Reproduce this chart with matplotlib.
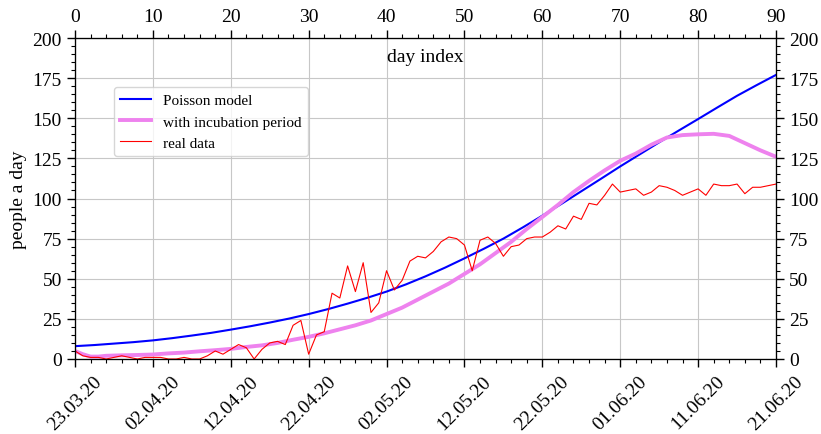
import numpy as np
import matplotlib
matplotlib.use("Agg")
import matplotlib.pyplot as plt
from matplotlib.ticker import MultipleLocator

plt.rcParams['font.family'] = ['Liberation Serif', 'DejaVu Serif']

# day index of each series point
model_days = [0, 2.5, 5, 7.5, 10, 12.5, 15, 17.5, 20, 22.5, 25, 27.5, 30, 32.5, 35, 37.5,
              40, 42.5, 45, 47.5, 50, 52.5, 55, 57.5, 60, 62.5, 65, 67.5, 70, 72.5, 75,
              77.5, 80, 82.5, 85, 87.5, 90]
poisson = [8, 8.7, 9.6, 10.5, 11.6, 13, 14.6, 16.3, 18.3, 20.4, 22.7, 25.2, 28, 31.1, 34.5,
           38.1, 42, 46.5, 51.5, 56.9, 62.7, 68.7, 75, 82, 89.3, 96.8, 104.5, 112.2, 120,
           127.5, 135, 142.3, 149.5, 156.8, 164, 170.6, 177]

incub_days = [0, 1, 2, 3, 4, 6, 8, 10, 12, 14, 16, 18, 20, 22, 24, 26, 28, 30, 32, 34, 36,
              38, 40, 42, 44, 46, 48, 50, 52, 54, 56, 58, 60, 62, 64, 66, 68, 70, 72, 74,
              76, 78, 80, 82, 84, 86, 88, 90]
incubation = [5, 3, 1.5, 1.5, 2, 2.3, 2.5, 2.8, 3.5, 4, 4.8, 5.5, 6.3, 7.5, 8.5, 10, 12,
              13.8, 16, 18.5, 21, 24, 28, 32, 37, 42, 47, 53, 59, 66, 73, 81, 88.5, 96,
              104, 111, 117.5, 123.5, 128, 133.5, 138, 139.5, 140, 140.3, 139, 134.5,
              130, 126]

real_days = list(range(91))
real = [5, 2, 1, 1, 0, 1, 2, 1, 0, 1, 1, 1, 0, 0, 1, 0, 0, 2, 5, 3,
        6, 9, 7, 0, 6, 10, 11, 9, 21, 24, 3, 15, 17, 41, 38, 58, 42, 60, 29, 35,
        55, 43, 49, 61, 64, 63, 67, 73, 76, 75, 71, 55, 74, 76, 72, 64, 70, 71, 75, 76,
        76, 79, 83, 81, 89, 87, 97, 96, 102, 109, 104, 105, 106, 102, 104, 108, 107, 105, 102, 104,
        106, 102, 109, 108, 108, 109, 103, 107, 107, 108, 109]

date_ticks = [0, 10, 20, 30, 40, 50, 60, 70, 80, 90]
date_labels = ['23.03.20', '02.04.20', '12.04.20', '22.04.20', '02.05.20',
               '12.05.20', '22.05.20', '01.06.20', '11.06.20', '21.06.20']

fig = plt.figure(figsize=(8.21, 4.35), dpi=100)
ax = fig.add_axes([75/821, 75/435, 701/821, 321/435])

ax.plot(model_days, poisson, color='blue', lw=1.5, label='Poisson model')
ax.plot(incub_days, incubation, color='violet', lw=2.8, label='with incubation period')
ax.plot(real_days, real, color='red', lw=0.8, label='real data')

ax.set_xlim(0, 90)
ax.set_ylim(0, 200)
ax.set_xticks(date_ticks)
ax.set_xticklabels(date_labels, rotation=45)
ax.xaxis.set_minor_locator(MultipleLocator(2))
ax.yaxis.set_major_locator(MultipleLocator(25))
ax.yaxis.set_minor_locator(MultipleLocator(5))
ax.grid(True, color='0.78', lw=0.8)
ax.set_ylabel('people a day', fontsize=14)
ax.text(0.5, 0.941, 'day index', transform=ax.transAxes, ha='center', va='center', fontsize=14)

top = ax.twiny()
top.set_xlim(0, 90)
top.xaxis.set_major_locator(MultipleLocator(10))
top.xaxis.set_minor_locator(MultipleLocator(2))

right = ax.twinx()
right.set_ylim(0, 200)
right.yaxis.set_major_locator(MultipleLocator(25))
right.yaxis.set_minor_locator(MultipleLocator(5))

for a in (ax, top, right):
    a.tick_params(which='major', direction='out', length=6, width=1, labelsize=14)
    a.tick_params(which='minor', direction='out', length=3, width=0.8)

ax.legend(loc='upper left', bbox_to_anchor=(0.045, 0.87), fontsize=11, framealpha=0.8)

fig.savefig('out.png', dpi=100)
